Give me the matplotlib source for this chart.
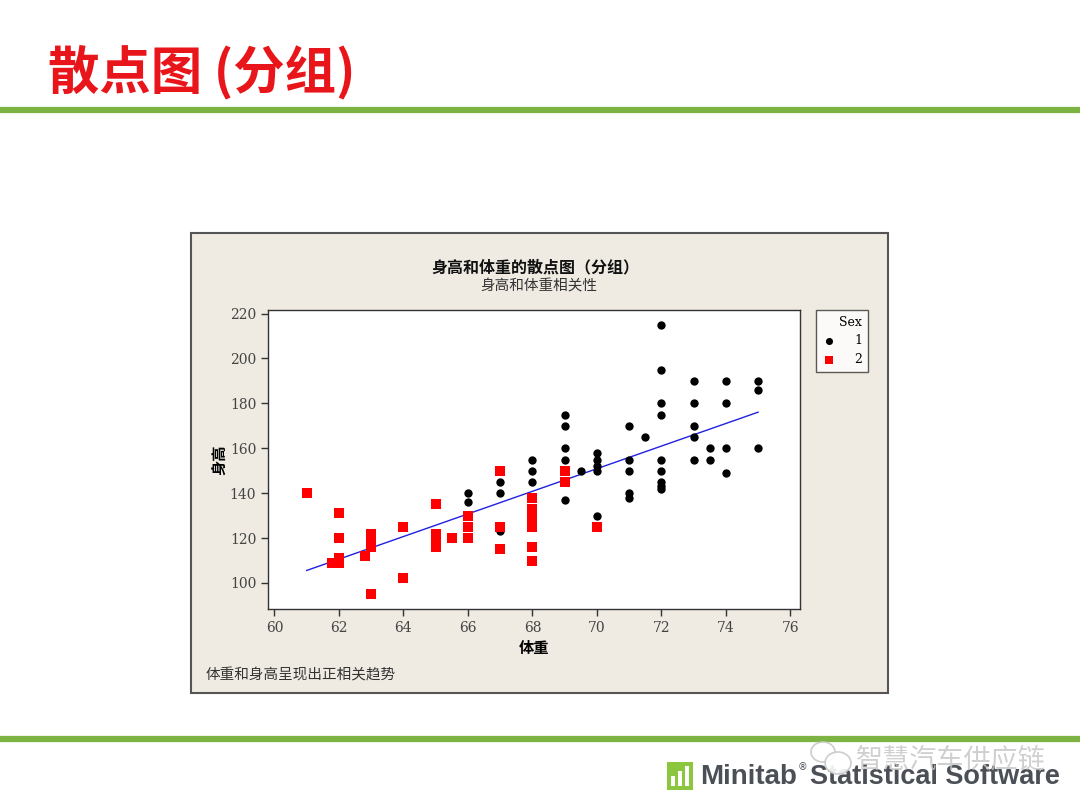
import matplotlib
matplotlib.use("Agg")
import matplotlib.pyplot as plt
from matplotlib.patches import Rectangle, Ellipse
from matplotlib.lines import Line2D
import numpy as np

plt.rcParams['font.family'] = ['Noto Sans CJK SC', 'DejaVu Sans']

# ---- data ----
male_weight = [66, 66, 67, 67, 67, 68, 68, 68,
               69, 69, 69, 69, 69, 69, 69.5,
               70, 70, 70, 70, 70,
               71, 71, 71, 71, 71, 71.5,
               72, 72, 72, 72, 72, 72, 72, 72, 72,
               73, 73, 73, 73, 73, 73.5, 73.5,
               74, 74, 74, 74,
               75, 75, 75]
male_height = [140, 136, 145, 140, 123, 155, 150, 145,
               175, 170, 160, 155, 150, 137, 150,
               158, 155, 152, 150, 130,
               170, 155, 150, 140, 138, 165,
               215, 195, 180, 175, 155, 150, 145, 143, 142,
               190, 180, 170, 165, 155, 160, 155,
               190, 180, 160, 149,
               190, 186, 160]
female_weight = [61, 62, 62, 61.8, 62, 62, 62.8, 63, 63, 63, 63, 64, 64,
                 65, 65, 65, 65, 65.5, 66, 66, 66, 67, 67, 67,
                 68, 68, 68, 68, 68, 68, 68, 69, 69, 70]
female_height = [140, 131, 120, 109, 109, 111, 112, 122, 119, 116, 95, 125, 102,
                 135, 122, 118, 116, 120, 130, 125, 120, 150, 125, 115,
                 138, 133, 130, 128, 125, 116, 110, 150, 145, 125]
sex_labels = ["1", "2"]
x_ticks = [60, 62, 64, 66, 68, 70, 72, 74, 76]
y_ticks = [100, 120, 140, 160, 180, 200, 220]

fig = plt.figure(figsize=(10.8, 8.1), dpi=100)
fig.patch.set_facecolor("white")

# slide decorations
fig.text(0.044, 0.911, "散点图 (分组)", color="#e8161b", fontsize=37,
         fontweight="bold", ha="left", va="center")
fig.add_artist(Line2D([0, 1], [1 - 110 / 810] * 2, color="#7cb342", lw=4.5))
fig.add_artist(Line2D([0, 1], [1 - 739 / 810] * 2, color="#7cb342", lw=4.5))
fig.add_artist(Rectangle((667 / 1080, 1 - 790 / 810), 26 / 1080, 28 / 810,
                         facecolor="#8cc63f", edgecolor="none"))
for i, hgt in enumerate([10, 15, 20]):
    fig.add_artist(Rectangle(((671 + i * 7) / 1080, 1 - 786 / 810), 4 / 1080, hgt / 810,
                             facecolor="white", edgecolor="none"))
fig.text(700 / 1080, 1 - 777 / 810, "Minitab", color="#4b5057", fontsize=20,
         fontweight="bold", family="Liberation Sans", ha="left", va="center")
fig.text(798 / 1080, 1 - 767 / 810, "®", color="#4b5057", fontsize=7,
         family="DejaVu Sans", ha="left", va="center")
fig.text(1060 / 1080, 1 - 777 / 810, "Statistical Software", color="#4b5057",
         fontsize=19.5, fontweight="bold", family="Liberation Sans",
         ha="right", va="center")
# watermark
fig.add_artist(Ellipse((823 / 1080, 1 - 752 / 810), 24 / 1080, 20 / 810,
                       facecolor="white", edgecolor="#c8c8c8", lw=1.2, alpha=0.9, zorder=5))
fig.add_artist(Ellipse((838 / 1080, 1 - 763 / 810), 26 / 1080, 22 / 810,
                       facecolor="white", edgecolor="#c8c8c8", lw=1.2, alpha=0.9, zorder=5))
fig.text(856 / 1080, 1 - 760 / 810, "智慧汽车供应链", color="#c4c4c4", fontsize=19.5,
         ha="left", va="center", alpha=0.8, zorder=6)

# chart panel
fig.add_artist(Rectangle((191 / 1080, 1 - 693 / 810), 697 / 1080, 460 / 810,
                         facecolor="#efebe2", edgecolor="#555555", lw=1.5,
                         zorder=-1))

ax = fig.add_axes([268 / 1080, 1 - 609 / 810, 532 / 1080, 299 / 810])
ax.set_facecolor("white")
for s in ax.spines.values():
    s.set_color("#333333")
    s.set_linewidth(1.0)

ax.scatter(male_weight, male_height, s=36, marker="o", color="black",
           linewidths=0, zorder=3, label=sex_labels[0])
ax.scatter(female_weight, female_height, s=58, marker="s", color="#ff0000",
           linewidths=0, zorder=3, label=sex_labels[1])

all_w = np.array(male_weight + female_weight)
all_h = np.array(male_height + female_height)
b1, b0 = np.polyfit(all_w, all_h, 1)
xx = np.array([all_w.min(), all_w.max()])
ax.plot(xx, b0 + b1 * xx, color="#2020e0", lw=1.0, zorder=2)

ax.set_xlim(59.8, 76.3)
ax.set_ylim(88.4, 221.6)
ax.set_xticks(x_ticks)
ax.set_yticks(y_ticks)
ax.tick_params(direction="out", length=5, width=1, color="#333333",
               labelsize=10, labelcolor="#444444")
for lab in ax.get_xticklabels() + ax.get_yticklabels():
    lab.set_family("DejaVu Serif")
ax.set_xlabel("体重", fontsize=11, fontweight="bold", labelpad=4)
ax.set_ylabel("身高", fontsize=11, fontweight="bold", labelpad=1)

fig.text(535 / 1080, 1 - 267 / 810, "身高和体重的散点图（分组）", fontsize=11.5,
         fontweight="bold", ha="center", va="center", color="#111111")
fig.text(539 / 1080, 1 - 286 / 810, "身高和体重相关性", fontsize=10.5,
         ha="center", va="center", color="#333333")
fig.text(206 / 1080, 1 - 675 / 810, "体重和身高呈现出正相关趋势", fontsize=10.5,
         ha="left", va="center", color="#333333")

leg = ax.legend(title="Sex", loc="upper left", bbox_to_anchor=(1 + 16 / 532, 1.0),
                borderaxespad=0, frameon=True, fancybox=False, edgecolor="#333333",
                fontsize=9, title_fontsize=9, handletextpad=1.4, handlelength=1.2,
                borderpad=0.45, labelspacing=0.45, markerscale=0.85,
                alignment="right")
leg.get_frame().set_linewidth(1.0)
for t in leg.get_texts():
    t.set_family("DejaVu Serif")
leg.get_title().set_family("DejaVu Serif")

fig.savefig("out.png", dpi=100)
